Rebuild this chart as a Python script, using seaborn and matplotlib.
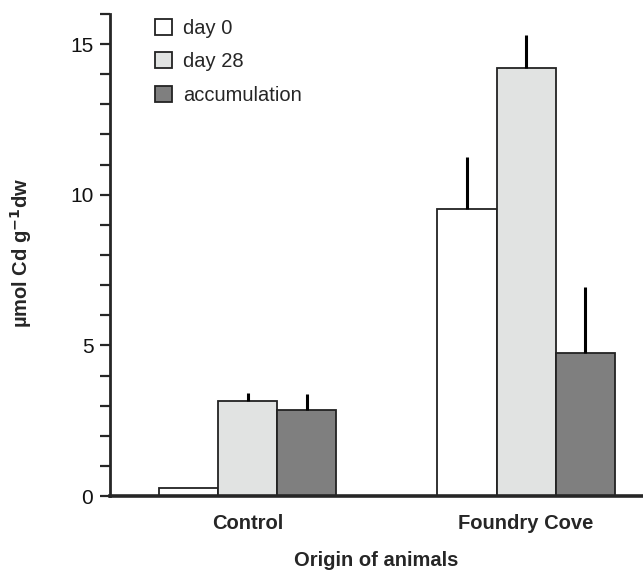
import matplotlib
matplotlib.use("Agg")
import matplotlib.pyplot as plt
import seaborn as sns
import pandas as pd
import numpy as np
from matplotlib.patches import Patch

sites = ["Control", "Foundry Cove"]
series = ["day 0", "day 28", "accumulation"]
day0 = [0.27, 9.53]
day28 = [3.15, 14.2]
accumulation = [2.85, 4.75]
err_day0 = [0.0, 1.72]
err_day28 = [0.27, 1.1]
err_acc = [0.53, 2.2]
colors = ["#ffffff", "#e1e3e2", "#7f7f7f"]

rows = []
for i, s in enumerate(sites):
    for name, vals, errs in zip(series, [day0, day28, accumulation], [err_day0, err_day28, err_acc]):
        rows.append({"site": s, "series": name, "value": vals[i], "err": errs[i]})
df = pd.DataFrame(rows)

sns.set_style("ticks")
plt.rcParams["font.family"] = ["Liberation Sans", "DejaVu Sans"]

fig = plt.figure(figsize=(6.43, 5.72), dpi=100)
ax = fig.add_axes([110 / 643, 1 - 496 / 572, 533 / 643, (496 - 14) / 572])

sns.barplot(data=df, x="site", y="value", hue="series", order=sites, hue_order=series,
            palette=colors, width=0.637, gap=0, errorbar=None, edgecolor="#222222",
            linewidth=1.3, ax=ax, legend=False, saturation=1)

# error bars (upward only) using bar positions from the axes
for j, name in enumerate(series):
    cont = ax.containers[j]
    for i, patch in enumerate(cont.patches):
        sub = df[(df.series == name) & (df.site == sites[i])].iloc[0]
        if sub.err > 0:
            xc = patch.get_x() + patch.get_width() / 2
            ax.vlines(xc, sub.value, sub.value + sub.err, color="black", lw=2.2, zorder=3)

ax.set_xlim(-0.495, 1.42)
ax.set_ylim(0, 16)
ax.set_yticks([0, 5, 10, 15])
ax.set_yticks(np.arange(0, 17, 1), minor=True)
ax.tick_params(axis="y", which="both", direction="out", length=7, width=1.6, labelsize=15,
               pad=5, labelcolor="#111111")
ax.tick_params(axis="x", length=0, labelsize=14.5, pad=13)
for lab in ax.get_xticklabels():
    lab.set_fontweight("bold")
for sp in ["top", "right"]:
    ax.spines[sp].set_visible(False)
ax.spines["left"].set_linewidth(2.0)
ax.spines["bottom"].set_linewidth(2.6)

ax.set_xlabel("Origin of animals", fontsize=14.5, fontweight="bold")
ax.xaxis.set_label_coords(0.5, -(560 - 496) / 482)
ax.xaxis.label.set_verticalalignment("center")
ax.set_ylabel("µmol Cd g$^{\\mathbf{-1}}$dw", fontsize=14.5, fontweight="bold")
ax.yaxis.set_label_coords((21 - 110) / 533, 0.505)
ax.yaxis.label.set_verticalalignment("center")

handles = [Patch(facecolor=c, edgecolor="#222222", linewidth=1.3) for c in colors]
ax.legend(handles, series, loc="upper left", bbox_to_anchor=(0.085, 0.99), frameon=False,
          fontsize=14.5, handlelength=0.85, handleheight=0.85, handletextpad=0.55,
          labelspacing=0.72, borderaxespad=0.0, borderpad=0.0)

fig.savefig("out.png", dpi=100)
